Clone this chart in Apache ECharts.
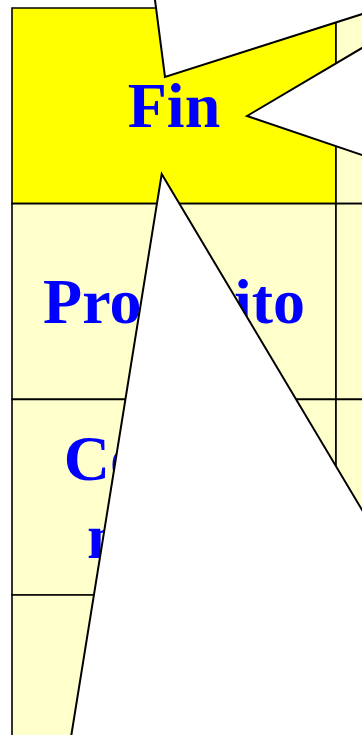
<!DOCTYPE html>
<html>
<head>
<meta charset="utf-8">
<script src="https://cdn.jsdelivr.net/npm/echarts@6/dist/echarts.min.js"></script>
<style>
  html, body { margin: 0; padding: 0; background: #ffffff; }
  #chart { width: 362px; height: 735px; }
</style>
</head>
<body>
<div id="chart"></div>
<script>
// ---- data ----
const tableColumns = [0, 1];
const tableRows = [0, 1, 2, 3];
const rowLabels = ['Fin', 'Propósito', 'Compo-\nnentes', ''];
const highlightedRows = [0];

// star polygon lobes, vertices in table units (column, row)
const starLobe1X = [0.4253, 0.4722, 1.4691];
const starLobe1Y = [-0.2453, 0.3526, -0.1738];
const starLobe2X = [0.7253, 1.2593, 1.2593];
const starLobe2Y = [0.5520, 0.0291, 0.8519];
const starLobe3X = [0.4620, 1.2593, 1.2593, 0.1509];
const starLobe3Y = [0.8484, 3.0623, 4.0476, 4.0476];

// ---- build ----
const cellData = [];
tableRows.forEach(function (r) {
  tableColumns.forEach(function (c) {
    cellData.push([c, r]);
  });
});
const lobes = [
  [starLobe1X, starLobe1Y],
  [starLobe2X, starLobe2Y],
  [starLobe3X, starLobe3Y]
];

// visible window: grid spans 350 x 727 px, one column = 324 px, one row = 195.67 px
const chart = echarts.init(document.getElementById('chart'), null, { renderer: 'canvas' });
chart.setOption({
  backgroundColor: '#ffffff',
  animation: false,
  grid: { left: 12, top: 8, right: 0, bottom: 0, containLabel: false },
  xAxis: { type: 'value', min: 0, max: 350 / 324, show: false },
  yAxis: { type: 'value', min: 0, max: 727 / 195.67, inverse: true, show: false },
  series: [
    {
      type: 'custom',
      z: 1,
      clip: false,
      data: cellData,
      renderItem: function (params, api) {
        const c = api.value(0), r = api.value(1);
        const p0 = api.coord([c, r]);
        const p1 = api.coord([c + 1, r + 1]);
        const mid = api.coord([c + 0.5, r + 0.5]);
        const fill = highlightedRows.indexOf(r) >= 0 && c === 0 ? '#ffff00' : '#ffffcc';
        const children = [{
          type: 'rect',
          shape: { x: p0[0], y: p0[1], width: p1[0] - p0[0], height: p1[1] - p0[1] },
          style: { fill: fill, stroke: '#000000', lineWidth: 1.6 }
        }];
        if (c === 0 && rowLabels[r]) {
          children.push({
            type: 'text',
            style: {
              text: rowLabels[r],
              x: mid[0],
              y: mid[1] + 5,
              align: 'center',
              verticalAlign: 'middle',
              fontFamily: '"Liberation Serif", "Times New Roman", serif',
              fontWeight: 'bold',
              fontSize: 64,
              lineHeight: 78,
              fill: '#0000ff'
            }
          });
        }
        return { type: 'group', children: children };
      }
    },
    {
      type: 'custom',
      z: 2,
      clip: false,
      data: lobes.map(function (l, i) { return [i]; }),
      renderItem: function (params, api) {
        const lobe = lobes[params.dataIndex];
        const pts = lobe[0].map(function (x, k) { return api.coord([x, lobe[1][k]]); });
        return {
          type: 'polygon',
          shape: { points: pts },
          style: { fill: '#ffffff', stroke: '#000000', lineWidth: 2, lineJoin: 'miter' }
        };
      }
    }
  ]
});
</script>
</body>
</html>
